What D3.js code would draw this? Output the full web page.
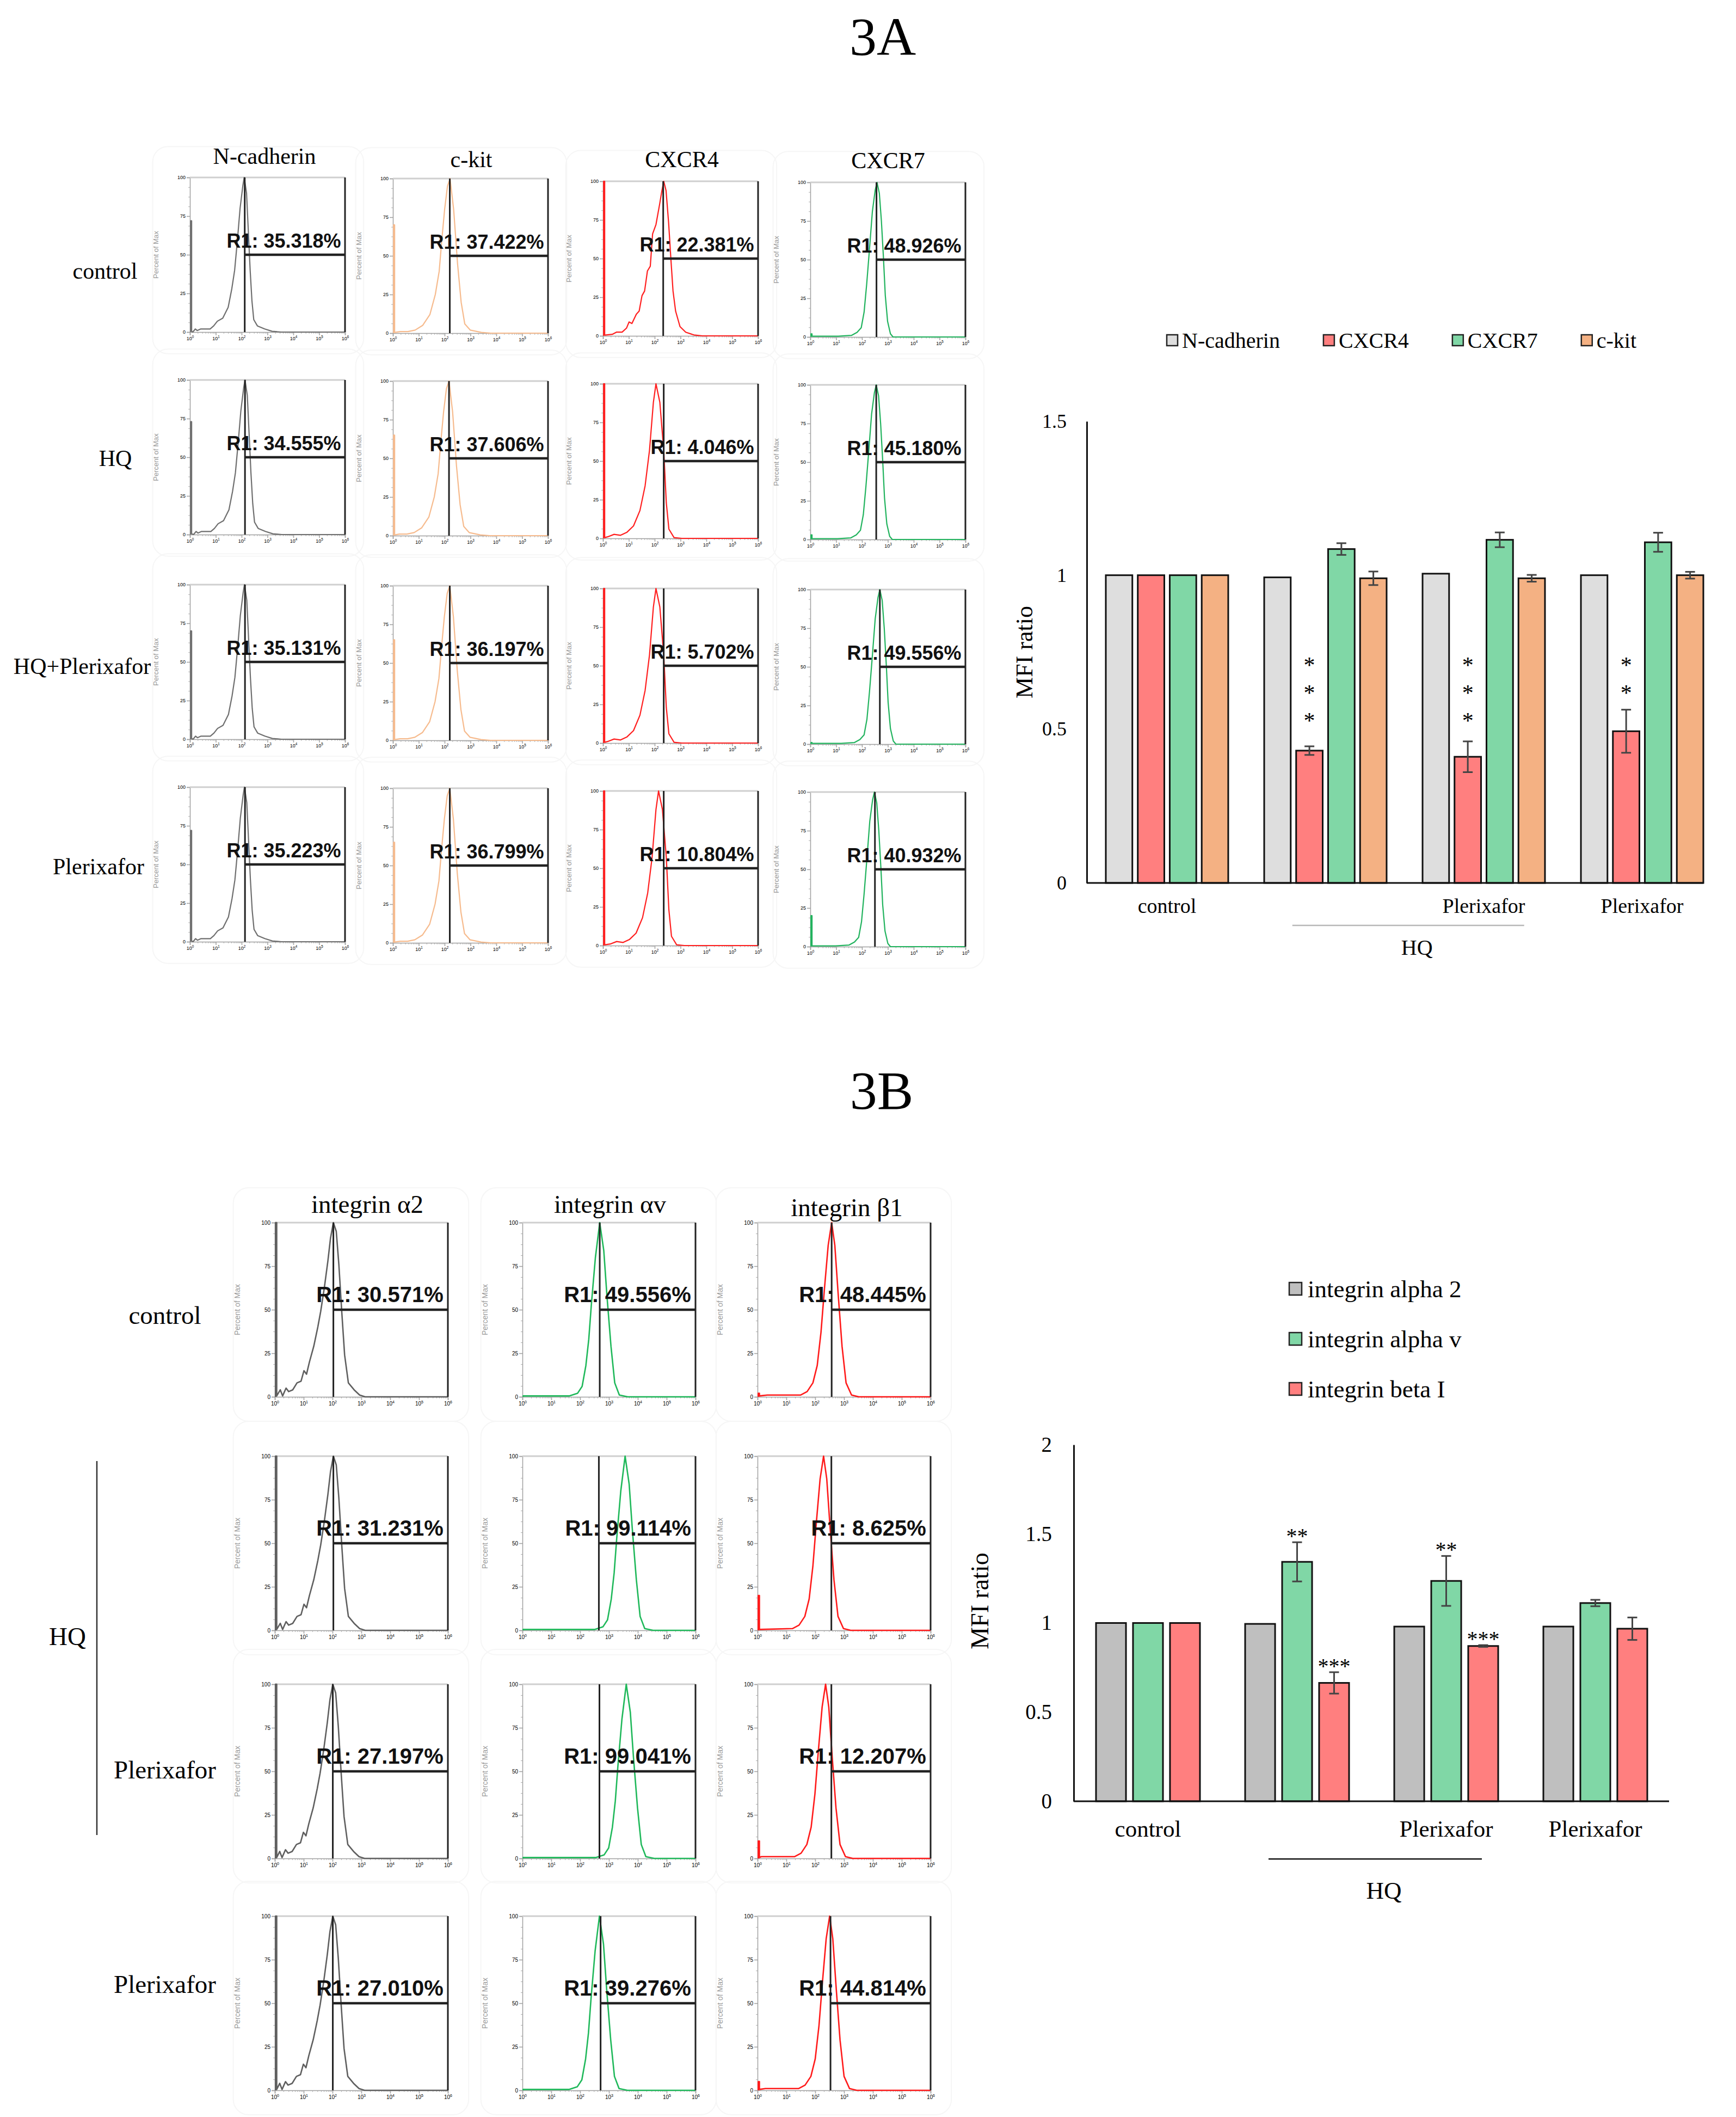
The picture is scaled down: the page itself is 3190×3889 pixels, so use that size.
<!DOCTYPE html>
<html>
<head>
<meta charset="utf-8">
<script src="https://cdn.jsdelivr.net/npm/d3@7"></script>
<style>
	body { margin: 0; background: #fff; }
	.c-svg { width: 3190px; height: 3889px; }
	svg text { font-family: "Liberation Serif", "Times New Roman", serif; fill: #000; }
</style>
</head>
<body>
<div class="c-svg"></div>
<script>
//DATA
//-------------------------------------------------------------------------

//3A flow histograms
const markersA = ["N-cadherin", "c-kit", "CXCR4", "CXCR7"];
const conditionsA = ["control", "HQ", "HQ+Plerixafor", "Plerixafor"];
const r1A = [
	["35.318", "37.422", "22.381", "48.926"],
	["34.555", "37.606", "4.046", "45.180"],
	["35.131", "36.197", "5.702", "49.556"],
	["35.223", "36.799", "10.804", "40.932"]
];
//peak & gate positions in decades (log10 of intensity)
const peakA = [
	[2.10, 2.21, 2.35, 2.58],
	[2.13, 2.17, 2.05, 2.55],
	[2.11, 2.20, 2.05, 2.69],
	[2.11, 2.20, 2.15, 2.48]
];
const gateA = [
	[2.12, 2.20, 2.33, 2.56],
	[2.13, 2.17, 2.35, 2.55],
	[2.13, 2.20, 2.35, 2.69],
	[2.13, 2.20, 2.35, 2.50]
];
//height of the first-channel spike (% of max)
const spikeA = [
	[72, 70, 100, 2],
	[73, 65, 100, 3],
	[70, 65, 100, 1],
	[72, 65, 100, 20]
];
const shapeNameA = [
	["ncad", "ckit", "cxcr4", "cxcr7"],
	["ncad", "ckit", "cxcr4low", "cxcr7"],
	["ncad", "ckit", "cxcr4low", "cxcr7"],
	["ncad", "ckit", "cxcr4low", "cxcr7"]
];

//3B flow histograms
const markersB = ["integrin α2", "integrin αv", "integrin β1"];
const conditionsB = ["control", "HQ", "HQ+Plerixafor", "Plerixafor"];
const rowLabelsB = ["control", "", "Plerixafor", "Plerixafor"];
const r1B = [
	["30.571", "49.556", "48.445"],
	["31.231", "99.114", "8.625"],
	["27.197", "99.041", "12.207"],
	["27.010", "39.276", "44.814"]
];
const peakB = [
	[2.03, 2.68, 2.57],
	[2.03, 3.56, 2.29],
	[2.01, 3.60, 2.36],
	[2.01, 2.67, 2.50]
];
const gateB = [
	[2.03, 2.68, 2.57],
	[2.03, 2.65, 2.56],
	[2.01, 2.67, 2.56],
	[2.01, 2.71, 2.53]
];
const spikeB = [
	[100, 0.5, 2],
	[100, 0.5, 20],
	[100, 0.5, 10],
	[100, 0.5, 5]
];
const shapeNameB = [
	["a2", "av", "b1"],
	["a2", "av", "b1"],
	["a2", "av", "b1"],
	["a2", "av", "b1"]
];

//histogram shapes: [decades from peak, % of max]
const shapeNcad = [[-1.99,0],[-1.89,2],[-1.82,1],[-1.68,2],[-1.46,2],[-1.32,2],[-1.18,4],[-1.04,7],[-0.83,9],[-0.62,16],[-0.48,28],[-0.37,40],[-0.26,60],[-0.16,80],[-0.05,95],[0,100],[0.09,90],[0.16,65],[0.23,40],[0.30,20],[0.37,8],[0.51,4],[0.79,2],[1.08,0.5],[1.43,0]];
const shapeCkit = [[-1.92,1],[-1.63,1],[-1.35,2],[-1.06,5],[-0.78,12],[-0.57,25],[-0.42,40],[-0.32,60],[-0.21,80],[-0.10,95],[0,100],[0.14,80],[0.29,45],[0.43,20],[0.57,6],[0.78,2],[1.21,0.5],[1.57,0]];
const shapeCxcr4 = [[-1.99,1],[-1.83,2.4],[-1.61,2.4],[-1.44,5],[-1.34,9],[-1.23,8],[-1.06,14],[-0.95,16],[-0.84,26],[-0.74,29],[-0.63,42],[-0.52,45],[-0.43,66],[-0.30,72],[-0.16,85],[-0.08,93],[0,100],[0.09,94],[0.19,73],[0.28,49],[0.36,29],[0.46,16],[0.63,6],[0.85,2.4],[1.17,0.6],[1.50,0]];
const shapeCxcr4Low = [[-1.87,1],[-1.62,2.6],[-1.37,2],[-1.12,4],[-0.87,8],[-0.62,18],[-0.42,34],[-0.25,57],[-0.10,88],[0,100],[0.15,88],[0.30,57],[0.40,23],[0.50,6],[0.70,0.5],[1.0,0]];
const shapeCxcr7 = [[-2.5,0.5],[-1.5,0.5],[-0.99,1],[-0.77,3],[-0.61,6],[-0.50,16],[-0.40,34],[-0.29,57],[-0.18,81],[-0.07,95],[0,100],[0.09,93],[0.17,75],[0.25,51],[0.32,27],[0.41,10],[0.52,2],[0.62,0]];
const shapeA2 = [[-1.95,0],[-1.84,4],[-1.76,0.5],[-1.64,5],[-1.55,3],[-1.41,4],[-1.26,8],[-1.12,9],[-1.02,15],[-0.93,13],[-0.83,20],[-0.68,29],[-0.54,40],[-0.44,49],[-0.31,63],[-0.19,78],[-0.10,91],[0,100],[0.10,95],[0.19,76],[0.29,49],[0.39,24],[0.52,8],[0.72,4],[0.91,1],[1.10,0]];
const shapeAv = [[-2.6,0.5],[-1.06,0.5],[-0.77,2],[-0.61,6],[-0.48,18],[-0.38,33],[-0.29,53],[-0.15,80],[0,100],[0.14,84],[0.25,58],[0.39,29],[0.52,8],[0.68,1],[0.97,0]];
const shapeB1 = [[-2.23,1],[-1.08,1],[-0.85,3],[-0.65,8],[-0.50,18],[-0.37,37],[-0.25,62],[-0.12,87],[0,100],[0.11,87],[0.23,58],[0.36,29],[0.50,8],[0.69,1],[0.94,0]];

//3A bar chart
const groupsA = ["control", "HQ", "HQ+Plerixafor", "Plerixafor"];
const groupLabelsA = ["control", "", "Plerixafor", "Plerixafor"];
const seriesA = ["N-cadherin", "CXCR4", "CXCR7", "c-kit"];
const mfiA = [
	[1.000, 1.000, 1.000, 1.000],
	[0.993, 0.430, 1.085, 0.990],
	[1.005, 0.410, 1.115, 0.990],
	[1.000, 0.493, 1.107, 1.000]
];
const errA = [
	[0, 0, 0, 0],
	[0, 0.014, 0.019, 0.022],
	[0, 0.050, 0.024, 0.011],
	[0, 0.070, 0.031, 0.011]
];
const starsA = [
	[0, 0, 0, 0],
	[0, 3, 0, 0],
	[0, 3, 0, 0],
	[0, 2, 0, 0]
];
const ticksA = [0, 0.5, 1, 1.5];

//3B bar chart
const groupsB = ["control", "HQ", "HQ+Plerixafor", "Plerixafor"];
const groupLabelsB = ["control", "", "Plerixafor", "Plerixafor"];
const seriesB = ["integrin alpha 2", "integrin alpha v", "integrin beta I"];
const mfiB = [
	[1.000, 1.000, 1.000],
	[0.995, 1.343, 0.664],
	[0.980, 1.236, 0.871],
	[0.980, 1.112, 0.968]
];
const errB = [
	[0, 0, 0],
	[0, 0.110, 0.060],
	[0, 0.140, 0.005],
	[0, 0.018, 0.063]
];
const starsB = [
	["", "", ""],
	["", "**", "***"],
	["", "**", "***"],
	["", "", ""]
];
const ticksB = [0, 0.5, 1, 1.5, 2];


//INITIALISATION
//-------------------------------------------------------------------------

const shapes = {
	ncad: shapeNcad, ckit: shapeCkit, cxcr4: shapeCxcr4, cxcr4low: shapeCxcr4Low,
	cxcr7: shapeCxcr7, a2: shapeA2, av: shapeAv, b1: shapeB1
};

const lineColorsA = ["#6f6f6f", "#f6bb8e", "#ff1f1f", "#22b35e"];
const lineColorsB = ["#5f5f5f", "#1fb85a", "#ff1a1a"];
const barColorsA = ["#dedede", "#ff7f7f", "#80d7a6", "#f4b183"];
const barColorsB = ["#bfbfbf", "#80d7a6", "#ff7f7f"];

const svg = d3.select(".c-svg")
	.append("svg")
	.attr("width", 3190)
	.attr("height", 3889);

svg.append("rect").attr("width", 3190).attr("height", 3889).attr("fill", "#fff");

function addText(parent, x, y, txt, size, anchor) {
	return parent.append("text")
		.attr("x", x)
		.attr("y", y)
		.attr("font-size", size)
		.attr("text-anchor", anchor || "middle")
		.text(txt);
}


//HISTOGRAM PANEL
//-------------------------------------------------------------------------

function drawHist(parent, p) {
	const g = parent.append("g");
	const x = d3.scaleLinear().domain([0, 6]).range([p.x, p.x + p.w]);
	const y = d3.scaleLinear().domain([0, 100]).range([p.y + p.h, p.y]);

	//faint card behind the screenshot
	g.append("rect")
		.attr("x", p.x - p.w * 0.24)
		.attr("y", p.y - p.h * 0.2)
		.attr("width", p.w * 1.36)
		.attr("height", p.h * 1.34)
		.attr("rx", 28)
		.attr("fill", "none")
		.attr("stroke", "#f6f6f6")
		.attr("stroke-width", 2);

	//y axis
	g.append("g")
		.attr("transform", `translate(${p.x},0)`)
		.call(d3.axisLeft(y).tickValues(d3.range(0, 101, 6.25)).tickSize(3).tickFormat(""))
		.call(a => a.selectAll("line, path").attr("stroke", "#b0b0b0"));
	g.append("g")
		.attr("transform", `translate(${p.x},0)`)
		.call(d3.axisLeft(y).tickValues([0, 25, 50, 75, 100]).tickSize(6).tickPadding(2))
		.call(a => a.selectAll("line, path").attr("stroke", "#a0a0a0").attr("stroke-width", 1.5))
		.call(a => a.selectAll("text").attr("font-size", p.tick).attr("fill", "#8a8a8a").style("font-family", "Liberation Sans"));

	//x axis (log decades)
	const minor = [];
	for (let k = 0; k < 6; k++) {
		for (let m = 2; m < 10; m++) minor.push(k + Math.log10(m));
	}
	g.append("g")
		.attr("transform", `translate(0,${p.y + p.h})`)
		.call(d3.axisBottom(x).tickValues(minor).tickSize(3).tickFormat(""))
		.call(a => a.selectAll("line, path").attr("stroke", "#b0b0b0"));
	g.append("g")
		.attr("transform", `translate(0,${p.y + p.h})`)
		.call(d3.axisBottom(x).tickValues([0, 1, 2, 3, 4, 5, 6]).tickSize(6).tickPadding(3))
		.call(a => a.selectAll("line, path").attr("stroke", "#a0a0a0").attr("stroke-width", 1.5))
		.call(a => a.selectAll("text").each(function(d) {
			const t = d3.select(this)
				.attr("font-size", p.tick)
				.attr("fill", "#8a8a8a")
				.style("font-family", "Liberation Sans")
				.text("10");
			t.append("tspan").attr("dy", -4).attr("font-size", p.tick * 0.7).text(d);
		}));

	//axis title
	g.append("text")
		.attr("transform", `translate(${p.x - p.lab},${p.y + p.h / 2}) rotate(-90)`)
		.attr("text-anchor", "middle")
		.attr("font-size", p.tick + 4)
		.style("font-family", "Liberation Sans")
		.style("fill", "#9a9a9a")
		.text("Percent of Max");

	//top border
	g.append("line")
		.attr("x1", x(0)).attr("x2", x(6))
		.attr("y1", y(100)).attr("y2", y(100))
		.attr("stroke", "#cfcfcf").attr("stroke-width", 3);

	//histogram curve, first channel drawn as a narrow column
	const pts = [[0.025, 0], [0.025, p.spike], [0.065, p.spike], [0.065, 0.5]]
		.concat(p.shape.map(d => [d[0] + p.peak, d[1]]).filter(d => d[0] > 0.08 && d[0] < 6))
		.concat([[6, 0]]);
	g.append("path")
		.datum(pts)
		.attr("d", d3.line().x(d => x(d[0])).y(d => y(d[1])))
		.attr("fill", "none")
		.attr("stroke", p.color)
		.attr("stroke-width", p.lw)
		.attr("stroke-linejoin", "round");

	//right border
	g.append("line")
		.attr("x1", x(6)).attr("x2", x(6))
		.attr("y1", y(0)).attr("y2", y(100))
		.attr("stroke", "#222").attr("stroke-width", 3);

	//gate R1
	g.append("line")
		.attr("x1", x(p.gate)).attr("x2", x(p.gate))
		.attr("y1", y(0)).attr("y2", y(100))
		.attr("stroke", "#222").attr("stroke-width", 3);
	g.append("line")
		.attr("x1", x(p.gate)).attr("x2", x(6))
		.attr("y1", y(50)).attr("y2", y(50))
		.attr("stroke", "#222").attr("stroke-width", 4.5);

	g.append("text")
		.attr("x", x(6) - p.w * 0.026)
		.attr("y", y(50) - p.h * 0.045)
		.attr("text-anchor", "end")
		.attr("font-size", p.fs)
		.attr("font-weight", "bold")
		.style("font-family", "Liberation Sans")
		.style("fill", "#111")
		.text(`R1: ${p.r1}%`);
}


//3A HISTOGRAM GRID
//-------------------------------------------------------------------------

const gA = svg.append("g").attr("class", "fig-3a");

addText(gA, 1622, 101, "3A", 100);

const colLeftA = [349, 722, 1108, 1489];
const rowTopA = [326, 698, 1074, 1446];
const colDyA = [0, 2, 7, 9];
const headXA = [486, 866, 1253, 1632];
const headYA = [301, 307, 307, 309];
const rowLabXA = [193, 212, 151, 181];
const rowLabYA = [512, 856, 1238, 1606];

markersA.forEach((m, j) => addText(gA, headXA[j], headYA[j], m, 42));
conditionsA.forEach((c, i) => addText(gA, rowLabXA[i], rowLabYA[i], c, 42));

conditionsA.forEach((c, i) => {
	markersA.forEach((m, j) => {
		drawHist(gA, {
			x: colLeftA[j], y: rowTopA[i] + colDyA[j], w: 285, h: 284,
			color: lineColorsA[j], lw: 2.2,
			shape: shapes[shapeNameA[i][j]],
			peak: peakA[i][j], gate: gateA[i][j], spike: spikeA[i][j],
			r1: r1A[i][j], fs: 36, tick: 9, lab: 58
		});
	});
});


//3B HISTOGRAM GRID
//-------------------------------------------------------------------------

const gB = svg.append("g").attr("class", "fig-3b");

addText(gB, 1620, 2037, "3B", 100);

const colLeftB = [505, 960, 1392];
const rowTopB = [2246, 2675, 3094, 3520];
const headXB = [675, 1121, 1556];
const headYB = [2228, 2228, 2234];
const rowLabYB = [2432, 0, 3267, 3661];

markersB.forEach((m, j) => addText(gB, headXB[j], headYB[j], m, 47));
rowLabelsB.forEach((c, i) => { if (c) addText(gB, 303, rowLabYB[i], c, 47); });

//HQ bracket over rows 2-3
gB.append("line")
	.attr("x1", 178).attr("x2", 178)
	.attr("y1", 2684).attr("y2", 3371)
	.attr("stroke", "#333").attr("stroke-width", 2.5);
addText(gB, 124, 3022, "HQ", 47);

conditionsB.forEach((c, i) => {
	markersB.forEach((m, j) => {
		drawHist(gB, {
			x: colLeftB[j], y: rowTopB[i], w: 318, h: 320,
			color: lineColorsB[j], lw: 2.6,
			shape: shapes[shapeNameB[i][j]],
			peak: peakB[i][j], gate: gateB[i][j], spike: spikeB[i][j],
			r1: r1B[i][j], fs: 40, tick: 10, lab: 64
		});
	});
});


//BAR CHART HELPER
//-------------------------------------------------------------------------

function drawBars(parent, o) {
	const g = parent.append("g");
	const y = d3.scaleLinear().domain(o.yDomain).range([o.y0, o.y1]);
	const x0 = d3.scaleBand().domain(o.groups).range(o.xRange).paddingInner(o.padG).paddingOuter(0);
	const x1 = d3.scaleBand().domain(o.series).range([0, x0.bandwidth()]).paddingInner(o.padS).paddingOuter(0);

	//bars
	o.groups.forEach((grp, i) => {
		const gg = g.append("g").attr("transform", `translate(${x0(grp)},0)`);
		gg.selectAll("rect")
			.data(o.series.map((s, k) => ({ s: s, k: k, v: o.values[i][k], e: o.err[i][k] })))
			.join("rect")
			.attr("x", d => x1(d.s))
			.attr("y", d => y(d.v))
			.attr("width", x1.bandwidth())
			.attr("height", d => y(0) - y(d.v))
			.attr("fill", d => o.colors[d.k])
			.attr("stroke", "#111")
			.attr("stroke-width", 3);

		//error bars
		const eb = gg.selectAll(".err")
			.data(o.series.map((s, k) => ({ s: s, v: o.values[i][k], e: o.err[i][k] })).filter(d => d.e > 0))
			.join("g")
			.attr("class", "err")
			.attr("stroke", "#444")
			.attr("stroke-width", 3);
		eb.append("line")
			.attr("x1", d => x1(d.s) + x1.bandwidth() / 2)
			.attr("x2", d => x1(d.s) + x1.bandwidth() / 2)
			.attr("y1", d => y(d.v - d.e))
			.attr("y2", d => y(d.v + d.e));
		eb.append("line")
			.attr("x1", d => x1(d.s) + x1.bandwidth() / 2 - 9)
			.attr("x2", d => x1(d.s) + x1.bandwidth() / 2 + 9)
			.attr("y1", d => y(d.v + d.e))
			.attr("y2", d => y(d.v + d.e));
		eb.append("line")
			.attr("x1", d => x1(d.s) + x1.bandwidth() / 2 - 9)
			.attr("x2", d => x1(d.s) + x1.bandwidth() / 2 + 9)
			.attr("y1", d => y(d.v - d.e))
			.attr("y2", d => y(d.v - d.e));

		o.drawStars(gg, i, x1, y);
	});

	//y axis
	g.append("g")
		.attr("transform", `translate(${o.axisX},0)`)
		.call(d3.axisLeft(y).tickValues(o.ticks).tickSize(0).tickPadding(o.tickPad).tickFormat(d3.format("~g")))
		.call(a => a.select(".domain").attr("stroke", "#111").attr("stroke-width", 3))
		.call(a => a.selectAll("text").attr("font-size", o.tickFs).style("font-family", "Liberation Serif"));

	//x axis line
	g.append("line")
		.attr("x1", o.axisX).attr("x2", o.axisEnd)
		.attr("y1", y(0)).attr("y2", y(0))
		.attr("stroke", "#111").attr("stroke-width", 3);

	//category labels
	o.groups.forEach((grp, i) => {
		addText(g, x0(grp) + x0.bandwidth() / 2, o.labY, o.labels[i], o.labFs);
	});

	//HQ bracket line
	const hx1 = x0(o.groups[1]) + x0.bandwidth() * o.hq[0];
	const hx2 = x0(o.groups[2]) + x0.bandwidth() * o.hq[1];
	g.append("line")
		.attr("x1", hx1).attr("x2", hx2)
		.attr("y1", o.hqLineY).attr("y2", o.hqLineY)
		.attr("stroke", o.hqColor).attr("stroke-width", 2.5);
	addText(g, (hx1 + hx2) / 2 + 16, o.hqY, "HQ", o.hqFs);

	//y title
	g.append("text")
		.attr("transform", `translate(${o.titleX},${o.titleY}) rotate(-90)`)
		.attr("text-anchor", "middle")
		.attr("font-size", o.titleFs)
		.text("MFI ratio");

	return { x0: x0, x1: x1, y: y };
}


//3A BAR CHART
//-------------------------------------------------------------------------

drawBars(gA, {
	yDomain: [0, 1.5], y0: 1622, y1: 774,
	groups: groupsA, series: seriesA, labels: groupLabelsA,
	values: mfiA, err: errA, colors: barColorsA,
	xRange: [2032, 3130], padG: 0.227, padS: 0.17,
	axisX: 1997, axisEnd: 3130, ticks: ticksA, tickPad: 37, tickFs: 36,
	labY: 1677, labFs: 38,
	hq: [0.23, 0.83], hqLineY: 1700, hqColor: "#b8b8b8", hqY: 1754, hqFs: 40,
	titleX: 1897, titleY: 1198, titleFs: 44,
	drawStars: function(gg, i, x1, y) {
		seriesA.forEach((s, k) => {
			for (let n = 0; n < starsA[i][k]; n++) {
				addText(gg, x1(s) + x1.bandwidth() / 2, y(0.72) + 21 + n * 51, "*", 42);
			}
		});
	}
});

//legend 3A
const legA = gA.append("g");
let lx = 2144;
seriesA.forEach((s, k) => {
	legA.append("rect")
		.attr("x", lx).attr("y", 615)
		.attr("width", 20).attr("height", 20)
		.attr("fill", barColorsA[k])
		.attr("stroke", "#222").attr("stroke-width", 2.5);
	const t = addText(legA, lx + 28, 639, s, 40, "start");
	lx += 28 + t.node().getComputedTextLength() + 80;
});


//3B BAR CHART
//-------------------------------------------------------------------------

drawBars(gB, {
	yDomain: [0, 2], y0: 3309, y1: 2654,
	groups: groupsB, series: seriesB, labels: groupLabelsB,
	values: mfiB, err: errB, colors: barColorsB,
	xRange: [2014, 3027], padG: 0.303, padS: 0.19,
	axisX: 1973, axisEnd: 3067, ticks: ticksB, tickPad: 40, tickFs: 39,
	labY: 3374, labFs: 43,
	hq: [0.225, 0.843], hqLineY: 3415, hqColor: "#111", hqY: 3488, hqFs: 45,
	titleX: 1816, titleY: 2941, titleFs: 46,
	drawStars: function(gg, i, x1, y) {
		seriesB.forEach((s, k) => {
			if (starsB[i][k]) {
				addText(gg, x1(s) + x1.bandwidth() / 2, y(mfiB[i][k] + errB[i][k]) + 2, starsB[i][k], 40);
			}
		});
	}
});

//legend 3B
const legB = gB.append("g");
seriesB.forEach((s, k) => {
	const ly = 2368 + k * 92;
	legB.append("rect")
		.attr("x", 2369).attr("y", ly - 12)
		.attr("width", 23).attr("height", 23)
		.attr("fill", barColorsB[k])
		.attr("stroke", "#222").attr("stroke-width", 2.5);
	addText(legB, 2403, ly + 15, s, 45, "start");
});
</script>
</body>
</html>
